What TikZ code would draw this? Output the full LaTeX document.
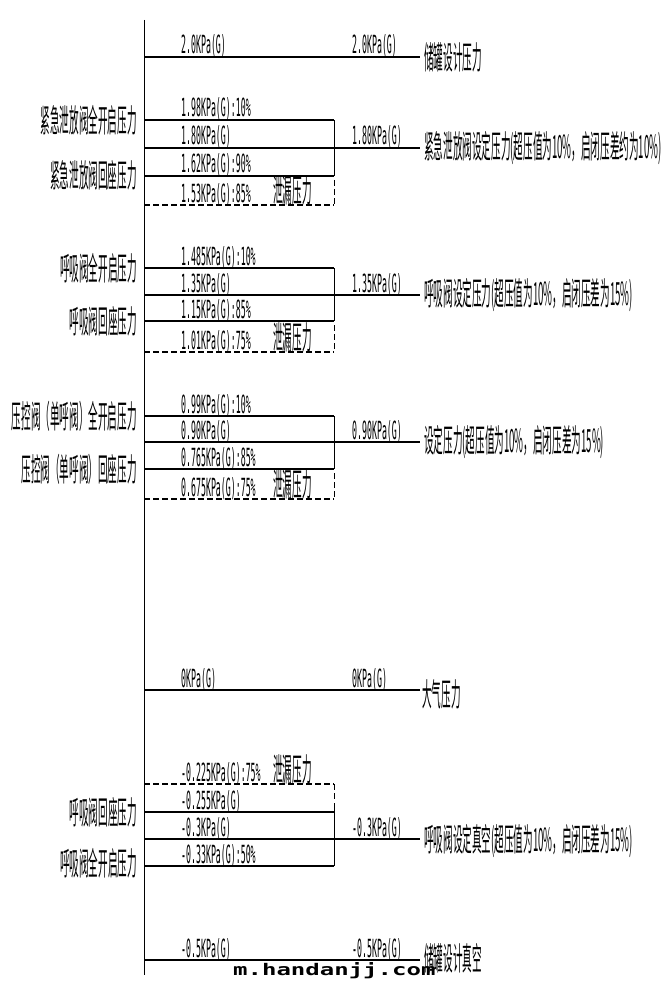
\documentclass[tikz,border=0pt]{standalone}
\usepackage{fontspec}
\usepackage{graphicx}
\newfontfamily\cjkfont{Noto Sans CJK SC}
\newfontfamily\cadfont{DejaVu Sans Mono}
\newcommand{\cntext}[1]{\scalebox{0.30}[1]{\cjkfont\fontsize{32}{32}\selectfont #1}}
\newcommand{\kpatext}[1]{\scalebox{0.33}[1]{\cadfont\fontsize{25}{25}\selectfont #1}}
\tikzset{
  level/.style={line width=1.2pt},
  leakline/.style={line width=1.2pt, dash pattern=on 6pt off 3pt},
  axisline/.style={line width=0.8pt},
  val/.style={anchor=base west, inner sep=0pt},
  lefttag/.style={anchor=east, inner sep=0pt},
  righttag/.style={anchor=west, inner sep=0pt},
}
\begin{document}
\begin{tikzpicture}[x=1pt,y=-1pt]
\useasboundingbox (0,0) rectangle (669,995);

% Drawing pressure axis
\draw [axisline] (144,20) -- (144,975);

% Drawing level 2.0KPa(G)
\draw [level] (144,57) -- (420,57);
\draw (181,54) node [val] (d1) {\kpatext{2.0KPa(G)}};%
\draw (352,54) node [val] (d2) {\kpatext{2.0KPa(G)}};%
\draw (424,57) node [righttag] (dtag) {\cntext{储罐设计压力}};%

% Drawing emergency vent levels
\draw [level] (144,120) -- (334,120);
\draw [level] (144,148) -- (420,148);
\draw [level] (144,176) -- (334,176);
\draw [leakline] (144,205) -- (334,205);
\draw [axisline] (334,120) -- (334,176);
\draw [axisline, dash pattern=on 6pt off 3pt] (334,180) -- (334,205);

% Marking emergency vent values
\draw (181,117) node [val] (e1) {\kpatext{1.98KPa(G):10\%}};%
\draw (181,145) node [val] (e2) {\kpatext{1.80KPa(G)}};%
\draw (181,173) node [val] (e3) {\kpatext{1.62KPa(G):90\%}};%
\draw (181,202) node [val] (e4) {\kpatext{1.53KPa(G):85\%}};%
\draw (273,202) node [val] (eleak) {\cntext{泄漏压力}};%
\draw (352,145) node [val] (eset) {\kpatext{1.80KPa(G)}};%
\draw (137,120) node [lefttag] (eopen) {\cntext{紧急泄放阀全开启压力}};%
\draw (137,175) node [lefttag] (eseat) {\cntext{紧急泄放阀回座压力}};%
\draw (424,148) node [righttag] (etag) {\cntext{紧急泄放阀设定压力(超压值为10\%，启闭压差约为10\%)}};%

% Drawing breather valve levels
\draw [level] (144,268) -- (334,268);
\draw [level] (144,295) -- (420,295);
\draw [level] (144,321) -- (334,321);
\draw [leakline] (144,352) -- (334,352);
\draw [axisline] (334,268) -- (334,321);
\draw [axisline, dash pattern=on 6pt off 3pt] (334,325) -- (334,352);

% Marking breather valve values
\draw (181,265) node [val] (b1) {\kpatext{1.485KPa(G):10\%}};%
\draw (181,292) node [val] (b2) {\kpatext{1.35KPa(G)}};%
\draw (181,318) node [val] (b3) {\kpatext{1.15KPa(G):85\%}};%
\draw (181,349) node [val] (b4) {\kpatext{1.01KPa(G):75\%}};%
\draw (273,349) node [val] (bleak) {\cntext{泄漏压力}};%
\draw (352,292) node [val] (bset) {\kpatext{1.35KPa(G)}};%
\draw (137,268) node [lefttag] (bopen) {\cntext{呼吸阀全开启压力}};%
\draw (137,321) node [lefttag] (bseat) {\cntext{呼吸阀回座压力}};%
\draw (424,295) node [righttag] (btag) {\cntext{呼吸阀设定压力(超压值为10\%，启闭压差为15\%)}};%

% Drawing pressure control valve levels
\draw [level] (144,416) -- (334,416);
\draw [level] (144,442) -- (420,442);
\draw [level] (144,469) -- (334,469);
\draw [leakline] (144,499) -- (334,499);
\draw [axisline] (334,416) -- (334,469);
\draw [axisline, dash pattern=on 6pt off 3pt] (334,473) -- (334,499);

% Marking pressure control valve values
\draw (181,413) node [val] (p1) {\kpatext{0.99KPa(G):10\%}};%
\draw (181,439) node [val] (p2) {\kpatext{0.90KPa(G)}};%
\draw (181,466) node [val] (p3) {\kpatext{0.765KPa(G):85\%}};%
\draw (181,496) node [val] (p4) {\kpatext{0.675KPa(G):75\%}};%
\draw (273,496) node [val] (pleak) {\cntext{泄漏压力}};%
\draw (352,439) node [val] (pset) {\kpatext{0.90KPa(G)}};%
\draw (137,416) node [lefttag] (popen) {\cntext{压控阀（单呼阀）全开启压力}};%
\draw (137,469) node [lefttag] (pseat) {\cntext{压控阀（单呼阀）回座压力}};%
\draw (424,442) node [righttag] (ptag) {\cntext{设定压力(超压值为10\%，启闭压差为15\%)}};%

% Drawing atmosphere level
\draw [level] (144,690) -- (420,690);
\draw (181,687) node [val] (a1) {\kpatext{0KPa(G)}};%
\draw (352,687) node [val] (a2) {\kpatext{0KPa(G)}};%
\draw (422,694) node [righttag] (atag) {\cntext{大气压力}};%

% Drawing vacuum levels
\draw [leakline] (144,784) -- (334,784);
\draw [level] (144,812) -- (334,812);
\draw [level] (144,839) -- (420,839);
\draw [level] (144,866) -- (334,866);
\draw [axisline, dash pattern=on 6pt off 3pt] (334,784) -- (334,800);
\draw [axisline] (334,803) -- (334,866);

% Marking vacuum values
\draw (181,781) node [val] (v1) {\kpatext{-0.225KPa(G):75\%}};%
\draw (273,781) node [val] (vleak) {\cntext{泄漏压力}};%
\draw (181,809) node [val] (v2) {\kpatext{-0.255KPa(G)}};%
\draw (181,836) node [val] (v3) {\kpatext{-0.3KPa(G)}};%
\draw (181,863) node [val] (v4) {\kpatext{-0.33KPa(G):50\%}};%
\draw (352,836) node [val] (vset) {\kpatext{-0.3KPa(G)}};%
\draw (137,812) node [lefttag] (vseat) {\cntext{呼吸阀回座压力}};%
\draw (137,863) node [lefttag] (vopen) {\cntext{呼吸阀全开启压力}};%
\draw (424,841) node [righttag] (vtag) {\cntext{呼吸阀设定真空(超压值为10\%，启闭压差为15\%)}};%

% Drawing design vacuum level
\draw [level] (144,960) -- (420,960);
\draw (181,957) node [val] (n1) {\kpatext{-0.5KPa(G)}};%
\draw (352,957) node [val] (n2) {\kpatext{-0.5KPa(G)}};%
\draw (424,958) node [righttag] (ntag) {\cntext{储罐设计真空}};%

% Marking site mark
\draw (233,975) node [val] (wm) {\scalebox{1.5}[1]{\cadfont\bfseries\fontsize{16}{16}\selectfont m.handanjj.com}};%
\end{tikzpicture}
\end{document}
